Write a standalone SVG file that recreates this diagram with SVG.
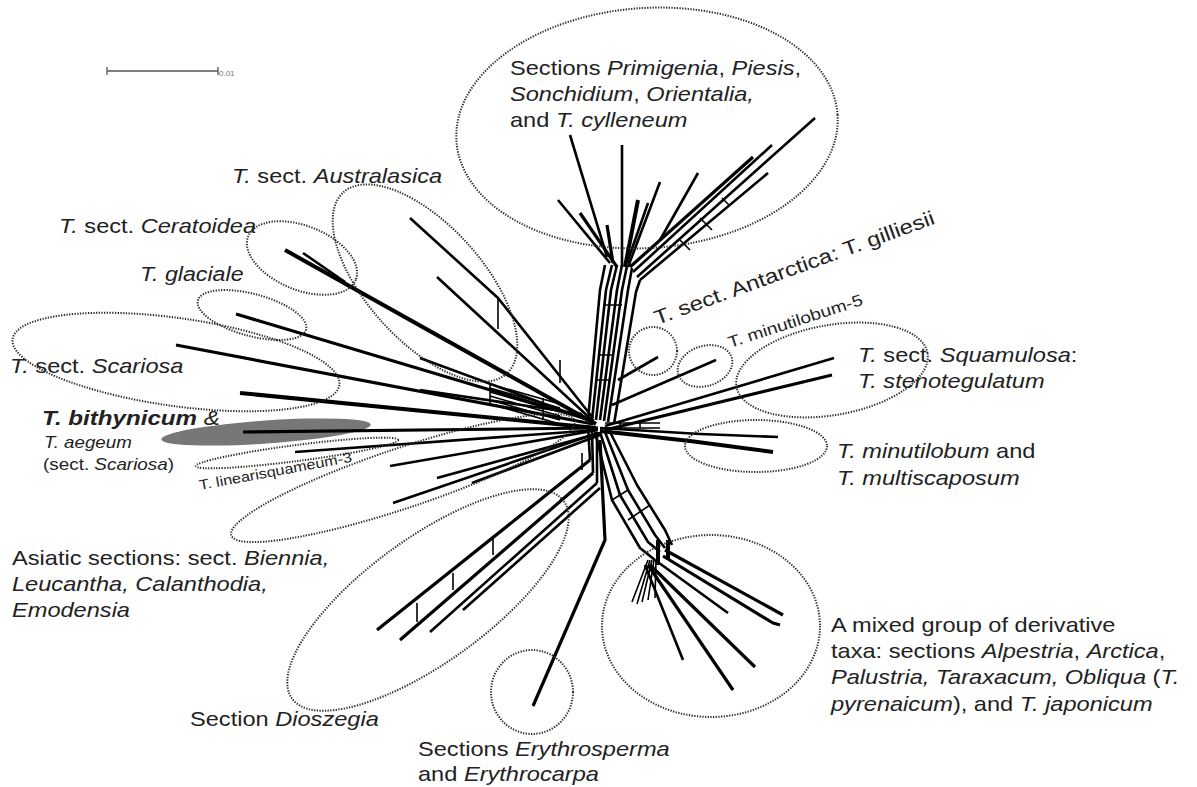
<svg xmlns="http://www.w3.org/2000/svg" width="1197" height="787" viewBox="0 0 1197 787">
<style>
.t{font-family:"Liberation Sans",Arial,sans-serif;font-size:20px;fill:#222}
.i{font-style:italic}
.b{font-weight:bold}
.e{fill:none;stroke:#2a2a2a;stroke-width:2;stroke-dasharray:1.3 1.4}
.n{fill:none;stroke:#000;stroke-width:2.6;stroke-linejoin:round}
.w{stroke-width:4}
.m{stroke-width:3.2}
.h{stroke-width:1.6}
</style>
<rect width="1197" height="787" fill="#fff"/>

<!-- scale bar -->
<g id="scale" stroke="#555" stroke-width="1.3" fill="none">
<path d="M107 71H218M107 67V75M218 67V75"/>
</g>
<text x="219" y="76" style="font-family:'Liberation Sans',Arial,sans-serif;font-size:8px;fill:#777">0.01</text>

<!-- shaded ellipse -->
<ellipse cx="266" cy="432" rx="105" ry="11.5" transform="rotate(-4 266 432)" fill="#777"/>

<!-- network -->
<g id="network" class="n">
<!-- upper-left single branches -->
<path class="w" d="M285 250L596 424"/>
<path d="M303 253L345 282"/>
<path class="m" d="M236 314L594 421"/>
<path class="m" d="M176 345L593 424"/>
<path class="w" d="M240 393L596 428"/>
<path class="m" d="M243 432L598 428"/>
<path d="M295 452L597 430"/>
<path d="M390 466L598 430"/>
<path d="M393 503L598 433"/>
<path d="M437 478L600 433"/>
<path d="M472 483L600 435"/>
<!-- Australasica -->
<path d="M410 218L498 298L593 418"/>
<path d="M437 277L593 421"/>
<path class="h" d="M498 298V329M560 360V383"/>
<!-- hatched bundle -->
<path class="h" d="M490 384L560 404M490 388L560 408M490 392L560 412M490 396L560 416M490 400L560 420M490 404L560 424M490 384V404M543 398V420"/>
<path d="M420 358L588 420M420 390L582 414"/>
<!-- trunk to top -->
<path d="M588 420L600 290L605 265"/>
<path d="M592 420L606 290L612 265"/>
<path d="M596 420L611 290L617 265"/>
<path d="M600 420L617 290L622 265"/>
<path d="M604 421L622 290L627 266"/>
<path d="M608 422L628 290L632 268"/>
<path d="M614 424L636 292L640 280"/>
<path class="h" d="M600 355H612M604 305H622M596 380H610"/>
<!-- top fork -->
<path d="M570 135L607 257"/>
<path d="M622 145L622 267"/>
<path d="M558 200L610 263"/>
<path class="m" d="M580 213L617 267"/>
<path class="m" d="M607 225L613 263"/>
<path class="w" d="M638 200L625 267"/>
<path d="M648 203L627 263"/>
<path d="M660 182L628 267"/>
<path d="M698 173L660 240"/>
<path class="m" d="M630 267L753 157"/>
<path d="M633 272L772 145"/>
<path d="M637 277L815 118"/>
<path d="M640 280L768 173"/>
<path class="h" d="M680 240L690 250M700 218L712 230M722 198L730 206"/>
<!-- right side -->
<path d="M600 428L700 434L778 437"/>
<path class="w" d="M600 431L690 441L773 452"/>
<path d="M605 426L834 358"/>
<path class="m" d="M605 430L832 375"/>
<path d="M618 380L658 357"/>
<path d="M612 405L716 360"/>
<path class="h" d="M605 423H660M605 428H660M620 423V428M640 423V428"/>
<!-- lower-left Dioszegia -->
<path class="m" d="M590 460L377 630"/>
<path class="m" d="M593 473L400 640"/>
<path d="M597 483L430 632"/>
<path d="M600 488L463 610"/>
<path class="h" d="M417 603V622M453 573V590M493 538V555M582 453V470"/>
<path d="M588 425L590 460M592 430L593 473M597 432L597 483"/>
<!-- Erythrosperma -->
<path class="m" d="M533 706L605 540L600 440"/>
<!-- lower-right bundle -->
<path d="M595 432L612 500L640 548L655 560"/>
<path d="M600 432L620 495L648 542L660 552"/>
<path d="M605 432L628 490L655 535L665 548"/>
<path d="M610 432L637 485L665 530L672 545"/>
<path class="w" d="M658 540V565M668 540V560"/>
<path class="h" d="M612 500L628 490M628 520L650 505"/>
<path class="m" d="M665 550L783 615"/>
<path class="m" d="M663 556L773 623L780 625"/>
<path d="M655 560L728 613"/>
<path class="m" d="M650 565L755 667"/>
<path class="m" d="M648 565L733 690"/>
<path d="M645 565L683 660"/>
<path class="h" d="M648 560L632 602M650 560L637 604M652 560L642 602M654 560L648 600M656 560L655 598"/>
</g>

<!-- dotted group outlines -->
<g id="outlines">
<ellipse class="e" cx="647" cy="128" rx="191" ry="120" transform="rotate(-4 647 128)"/>
<ellipse class="e" cx="425" cy="283" rx="122" ry="58" transform="rotate(48 425 283)"/>
<ellipse class="e" cx="302" cy="258" rx="58" ry="32" transform="rotate(22 302 258)"/>
<ellipse class="e" cx="252" cy="315" rx="56" ry="21" transform="rotate(15 252 315)"/>
<ellipse class="e" cx="176" cy="362" rx="165" ry="44" transform="rotate(8 176 362)"/>
<ellipse class="e" cx="297" cy="453" rx="102" ry="8" transform="rotate(-7.4 297 453)"/>
<ellipse class="e" cx="403" cy="478" rx="181" ry="30" transform="rotate(-18.5 403 478)"/>
<ellipse class="e" cx="428" cy="600" rx="168" ry="62" transform="rotate(-36 428 600)"/>
<ellipse class="e" cx="532" cy="692" rx="41" ry="42"/>
<ellipse class="e" cx="711" cy="626" rx="109" ry="91"/>
<ellipse class="e" cx="756" cy="446" rx="71" ry="26"/>
<ellipse class="e" cx="832" cy="370" rx="97" ry="45" transform="rotate(-10 832 370)"/>
<ellipse class="e" cx="653" cy="351" rx="24" ry="24"/>
<ellipse class="e" cx="705" cy="366" rx="28" ry="20" transform="rotate(-18 705 366)"/>
</g>

<!-- labels -->
<g id="labels" class="t">
<text transform="translate(510 75) scale(1.18 1)">Sections <tspan class="i">Primigenia</tspan>, <tspan class="i">Piesis</tspan>,</text>
<text transform="translate(510 101) scale(1.18 1)"><tspan class="i">Sonchidium</tspan>, <tspan class="i">Orientalia,</tspan></text>
<text transform="translate(510 127) scale(1.18 1)">and <tspan class="i">T. cylleneum</tspan></text>
<text transform="translate(232 183) scale(1.18 1)"><tspan class="i">T.</tspan>  sect. <tspan class="i">Australasica</tspan></text>
<text transform="translate(59 233) scale(1.18 1)"><tspan class="i">T.</tspan> sect. <tspan class="i">Ceratoidea</tspan></text>
<text transform="translate(140 281) scale(1.16 1)" class="i">T. glaciale</text>
<text transform="translate(10 373) scale(1.18 1)"><tspan class="i">T.</tspan> sect. <tspan class="i">Scariosa</tspan></text>
<text transform="translate(42 425) scale(1.15 1)" style="font-size:21px"><tspan class="i b">T. bithynicum</tspan> <tspan class="i">&amp;</tspan></text>
<text transform="translate(44 448) scale(1.17 1)" class="i" style="font-size:16px">T. aegeum</text>
<text transform="translate(43 470) scale(1.18 1)" style="font-size:16px">(sect. <tspan class="i">Scariosa</tspan>)</text>
<text transform="translate(200 490) rotate(-10.5) scale(1.16 1)" style="font-size:14px">T. linearisquameum-3</text>
<text transform="translate(657 325) rotate(-20) scale(1.2 1)">T. sect. Antarctica: T. gilliesii</text>
<text transform="translate(730 348) rotate(-18) scale(1.2 1)" style="font-size:16px">T. minutilobum-5</text>
<text transform="translate(858 362) scale(1.18 1)"><tspan class="i">T.</tspan> sect. <tspan class="i">Squamulosa</tspan>:</text>
<text transform="translate(858 388) scale(1.18 1)" class="i">T. stenotegulatum</text>
<text transform="translate(837 458) scale(1.18 1)"><tspan class="i">T. minutilobum</tspan> and</text>
<text transform="translate(837 485) scale(1.18 1)" class="i">T. multiscaposum</text>
<text transform="translate(12 565) scale(1.18 1)">Asiatic sections: sect. <tspan class="i">Biennia,</tspan></text>
<text transform="translate(12 591) scale(1.18 1)" class="i">Leucantha, Calanthodia,</text>
<text transform="translate(12 617) scale(1.18 1)" class="i">Emodensia</text>
<text transform="translate(190 726) scale(1.18 1)">Section <tspan class="i">Dioszegia</tspan></text>
<text transform="translate(418 756) scale(1.18 1)">Sections <tspan class="i">Erythrosperma</tspan></text>
<text transform="translate(418 781) scale(1.18 1)">and <tspan class="i">Erythrocarpa</tspan></text>
<text transform="translate(831 632) scale(1.18 1)">A mixed group of derivative</text>
<text transform="translate(831 658) scale(1.18 1)">taxa: sections <tspan class="i">Alpestria</tspan>, <tspan class="i">Arctica</tspan>,</text>
<text transform="translate(831 684) scale(1.18 1)" class="i">Palustria, Taraxacum, Obliqua <tspan style="font-style:normal">(</tspan>T.</text>
<text transform="translate(831 711) scale(1.18 1)"><tspan class="i">pyrenaicum</tspan>), and <tspan class="i">T. japonicum</tspan></text>
</g>
</svg>
